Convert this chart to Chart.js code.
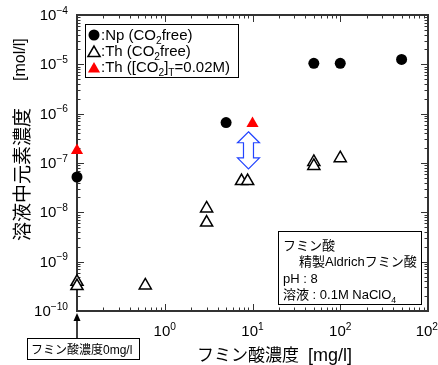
<!DOCTYPE html>
<html>
<head>
<meta charset="utf-8">
<script src="https://cdn.jsdelivr.net/npm/chart.js@4/dist/chart.umd.min.js"></script>
<style>
  html, body { margin: 0; padding: 0; background: #fff; }
</style>
</head>
<body>
<canvas id="chart" width="438" height="365"></canvas>
<script>
// フミン酸濃度 [mg/l] ; 0 mg/l は軸の左端に置く
var npX = [0, 5, 50, 100, 500];
var npY = [5.2e-8, 6.6e-7, 1.05e-5, 1.05e-5, 1.26e-5];

var thX = [0, 0, 0.6, 3, 3, 7.5, 8.8, 50, 50, 100];
var thY = [3.9e-10, 3.2e-10, 3.3e-10, 1.2e-8, 6.2e-9, 4.3e-8, 4.3e-8, 1.05e-7, 8.7e-8, 1.25e-7];

var thCO2X = [0, 10];
var thCO2Y = [1.8e-7, 6.3e-7];

// tick labels are "10" with these exponents (the last x label reads 10² in the original)
var xTickValues = [0.1, 1, 10, 100, 1000];
var xTickExponents = ['', '0', '1', '2', '2'];
var yTickValues = [1e-10, 1e-9, 1e-8, 1e-7, 1e-6, 1e-5, 1e-4];
var yTickExponents = ['−10', '−9', '−8', '−7', '−6', '−5', '−4'];

// blue double arrow between the two Th groups
var arrowX = 9;
var arrowY = [4.3e-7, 7.6e-8];

var FONT = '"Liberation Sans", "Noto Sans CJK JP", sans-serif';
var JP = '"Noto Sans CJK JP", sans-serif';

function pts(xs, ys) {
  return xs.map(function (x, i) {
    return { x: x === 0 ? xTickValues[0] : x, y: ys[i] };
  });
}

function logTicks(values) {
  var out = [];
  for (var i = 0; i < values.length; i++) {
    out.push({ value: values[i] });
    if (i < values.length - 1) {
      for (var m = 2; m <= 9; m++) out.push({ value: values[i] * m });
    }
  }
  return out;
}

function isMajor(v) {
  var l = Math.log10(v);
  return Math.abs(l - Math.round(l)) < 1e-6;
}

// parts: [text, 'sub'|'sup'|undefined]
function rich(ctx, x, y, parts, size, family, measureOnly) {
  var x0 = x;
  parts.forEach(function (p) {
    var s = p[1] ? size * 0.68 : size;
    ctx.font = s + 'px ' + (family || FONT);
    var dy = p[1] === 'sub' ? size * 0.28 : (p[1] === 'sup' ? -size * 0.42 : 0);
    if (!measureOnly) ctx.fillText(p[0], x, y + dy);
    x += ctx.measureText(p[0]).width;
  });
  return x - x0;
}

function tri(ctx, x, y, r) {
  ctx.beginPath();
  ctx.moveTo(x, y - r);
  ctx.lineTo(x + r * Math.sin(2 * Math.PI / 3), y - r * Math.cos(2 * Math.PI / 3));
  ctx.lineTo(x + r * Math.sin(4 * Math.PI / 3), y - r * Math.cos(4 * Math.PI / 3));
  ctx.closePath();
}

var frame = {
  id: 'frame',
  beforeDatasetsDraw: function (chart) {
    var a = chart.chartArea, ctx = chart.ctx;
    var xs = chart.scales.x, ys = chart.scales.y;
    ctx.save();
    ctx.strokeStyle = '#333';
    ctx.lineWidth = 1;
    ctx.beginPath();
    xs.ticks.forEach(function (t) {
      var p = Math.round(xs.getPixelForValue(t.value)) + 0.5;
      var len = isMajor(t.value) ? 7 : 3.5;
      ctx.moveTo(p, a.bottom); ctx.lineTo(p, a.bottom - len);
      ctx.moveTo(p, a.top); ctx.lineTo(p, a.top + len);
    });
    ys.ticks.forEach(function (t) {
      var p = Math.round(ys.getPixelForValue(t.value)) + 0.5;
      var len = isMajor(t.value) ? 7 : 3.5;
      ctx.moveTo(a.left, p); ctx.lineTo(a.left + len, p);
      ctx.moveTo(a.right, p); ctx.lineTo(a.right - len, p);
    });
    ctx.stroke();
    ctx.lineWidth = 2;
    ctx.strokeRect(a.left, a.top, a.right - a.left, a.bottom - a.top);
    ctx.restore();

    // tick labels, placed with the scales
    ctx.save();
    ctx.fillStyle = '#000';
    ctx.textBaseline = 'alphabetic';
    yTickValues.forEach(function (v, i) {
      var parts = [['10'], [yTickExponents[i], 'sup']];
      var w = rich(ctx, 0, 0, parts, 15, FONT, true);
      var py = ys.getPixelForValue(v);
      rich(ctx, 68 - w, py + 5, parts, 15);
    });
    xTickValues.forEach(function (v, i) {
      if (!xTickExponents[i]) return;
      var parts = [['10'], [xTickExponents[i], 'sup']];
      var w = rich(ctx, 0, 0, parts, 15, FONT, true);
      var px = xs.getPixelForValue(v) - w / 2;
      px = Math.min(px, chart.width - w);
      rich(ctx, px, 336, parts, 15);
    });
    ctx.restore();
  },
  afterDraw: function (chart) {
    var ctx = chart.ctx;
    var xs = chart.scales.x, ys = chart.scales.y;
    ctx.save();
    ctx.fillStyle = '#000';
    ctx.textBaseline = 'alphabetic';

    // axis titles
    ctx.font = '17px ' + JP;
    ctx.fillText('フミン酸濃度', 197, 361);
    ctx.font = '18px ' + FONT;
    ctx.fillText('[mg/l]', 308, 361);

    ctx.save();
    ctx.translate(22, 0);
    ctx.rotate(-Math.PI / 2);
    ctx.textBaseline = 'middle';
    ctx.font = '19px ' + JP;
    ctx.fillText('溶液中元素濃度', -241, 0);
    ctx.font = '16px ' + FONT;
    ctx.fillText('[mol/l]', -81, -1);
    ctx.restore();

    // legend box
    ctx.fillStyle = '#fff';
    ctx.fillRect(85, 24, 153, 53);
    ctx.strokeStyle = '#000';
    ctx.lineWidth = 1;
    ctx.strokeRect(85.5, 24.5, 153, 53);
    ctx.fillStyle = '#000';
    ctx.beginPath(); ctx.arc(94, 35, 5.5, 0, Math.PI * 2); ctx.fill();
    tri(ctx, 94, 53, 7); ctx.fillStyle = '#fff'; ctx.fill();
    ctx.lineWidth = 1.5; ctx.strokeStyle = '#000'; ctx.stroke();
    tri(ctx, 94, 69, 7); ctx.fillStyle = '#f00'; ctx.fill();
    ctx.fillStyle = '#000';
    rich(ctx, 101, 40, [[':Np (CO'], ['2', 'sub'], ['free)']], 15);
    rich(ctx, 101, 56, [[':Th (CO'], ['2', 'sub'], ['free)']], 15);
    rich(ctx, 101, 72, [[':Th ([CO'], ['2', 'sub'], [']'], ['T', 'sub'], ['=0.02M)']], 15);

    // info box
    ctx.fillStyle = '#fff';
    ctx.fillRect(278, 231, 143, 73);
    ctx.lineWidth = 1;
    ctx.strokeStyle = '#000';
    ctx.strokeRect(278.5, 231.5, 143, 73);
    ctx.fillStyle = '#000';
    rich(ctx, 283, 250, [['フミン酸']], 13);
    rich(ctx, 299, 266, [['精製Aldrichフミン酸']], 13);
    rich(ctx, 283, 283, [['pH : 8']], 13);
    rich(ctx, 283, 299, [['溶液 : 0.1M NaClO'], ['4', 'sub']], 13);

    // 0 mg/l note with arrow
    ctx.strokeRect(27.5, 338.5, 112, 21);
    rich(ctx, 31, 354, [['フミン酸濃度0mg/l']], 12);
    ctx.lineWidth = 1.5;
    ctx.beginPath(); ctx.moveTo(77, 338); ctx.lineTo(77, 320); ctx.stroke();
    ctx.beginPath(); ctx.moveTo(77, 313); ctx.lineTo(73.5, 321); ctx.lineTo(80.5, 321); ctx.closePath(); ctx.fill();

    // blue double arrow
    var cx = xs.getPixelForValue(arrowX);
    var t = ys.getPixelForValue(arrowY[0]);
    var b = ys.getPixelForValue(arrowY[1]);
    var hw = 11, sw = 5, hl = 11;
    ctx.beginPath();
    ctx.moveTo(cx, t);
    ctx.lineTo(cx + hw, t + hl); ctx.lineTo(cx + sw, t + hl);
    ctx.lineTo(cx + sw, b - hl); ctx.lineTo(cx + hw, b - hl);
    ctx.lineTo(cx, b);
    ctx.lineTo(cx - hw, b - hl); ctx.lineTo(cx - sw, b - hl);
    ctx.lineTo(cx - sw, t + hl); ctx.lineTo(cx - hw, t + hl);
    ctx.closePath();
    ctx.fillStyle = '#fff'; ctx.fill();
    ctx.strokeStyle = '#2244ff'; ctx.lineWidth = 1.2; ctx.stroke();
    ctx.restore();
  }
};

new Chart(document.getElementById('chart'), {
  type: 'scatter',
  data: {
    datasets: [
      {
        label: 'Np (CO2free)',
        data: pts(npX, npY),
        pointStyle: 'circle',
        pointRadius: 5.5,
        backgroundColor: '#000',
        borderColor: '#000',
        borderWidth: 0,
        clip: false
      },
      {
        label: 'Th (CO2free)',
        data: pts(thX, thY),
        pointStyle: 'triangle',
        pointRadius: 7,
        backgroundColor: '#fff',
        borderColor: '#000',
        borderWidth: 1.5,
        clip: false
      },
      {
        label: 'Th ([CO2]T=0.02M)',
        data: pts(thCO2X, thCO2Y),
        pointStyle: 'triangle',
        pointRadius: 7,
        backgroundColor: '#f00',
        borderColor: '#f00',
        borderWidth: 0,
        clip: false
      }
    ]
  },
  options: {
    responsive: false,
    animation: false,
    layout: { padding: { top: 15, right: 10, left: 0, bottom: 0 } },
    plugins: { legend: { display: false }, tooltip: { enabled: false } },
    scales: {
      x: {
        type: 'logarithmic',
        min: xTickValues[0],
        max: xTickValues[xTickValues.length - 1],
        grid: { display: false, drawTicks: false },
        border: { display: false },
        afterBuildTicks: function (s) { s.ticks = logTicks(xTickValues); },
        afterFit: function (s) { s.height = 54; s.paddingLeft = 0; s.paddingRight = 0; },
        ticks: { display: false, autoSkip: false }
      },
      y: {
        type: 'logarithmic',
        min: yTickValues[0],
        max: yTickValues[yTickValues.length - 1],
        grid: { display: false, drawTicks: false },
        border: { display: false },
        afterBuildTicks: function (s) { s.ticks = logTicks(yTickValues); },
        afterFit: function (s) { s.width = 77; s.paddingTop = 0; s.paddingBottom = 0; },
        ticks: { display: false, autoSkip: false }
      }
    }
  },
  plugins: [frame]
});
</script>
</body>
</html>
